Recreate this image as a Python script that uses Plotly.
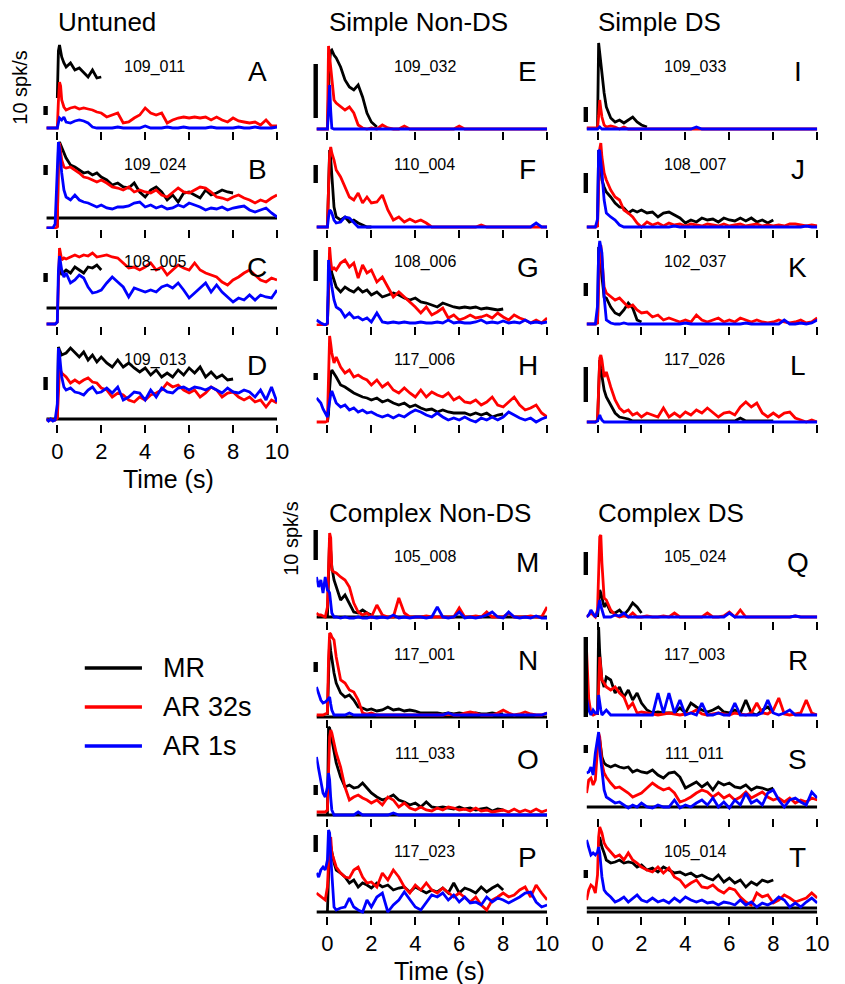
import plotly.graph_objects as go

N = None

# Shared time grid (s); finer sampling around stimulus onset
TIME = [-0.5, -0.4, -0.3, -0.2, -0.1, 0.0,
        0.05, 0.1, 0.15, 0.2, 0.3, 0.4,
        0.6, 0.8, 1.0, 1.2, 1.4, 1.6, 1.8, 2.0,
        2.25, 2.5, 2.75, 3.0, 3.25, 3.5, 3.75, 4.0,
        4.25, 4.5, 4.75, 5.0, 5.25, 5.5, 5.75, 6.0,
        6.25, 6.5, 6.75, 7.0, 7.25, 7.5, 7.75, 8.0,
        8.25, 8.5, 8.75, 9.0, 9.25, 9.5, 9.75, 10.0]

# Normalised response per cell (MR = motion reversal, AR 32s / AR 1s = adaptation runs)
A_MR = [N,N,N,N,N,33, 80,86,78,74,68,64, 68,61,63,59,54,61,53,54]
A_AR32 = [3,3,3,3,3,3, 30,49,45,31,24,21, 23,24,22,23,22,21,19,18,
          14,16,18,8, 9,13,16,23, 18,16,18,8, 11,13,14,13, 14,13,14,11, 14,11,9,13, 10,9,8,9, 6,11,5,5]
A_AR1 = [3,3,3,3,3,3, 8,13,12,11,14,9, 8,10,11,10,8,4,3,3,
         3,3,4,3, 3,3,3,5, 3,3,3,4, 3,3,4,3, 3,3,3,4, 3,3,3,3, 4,3,3,4, 3,3,3,4]

B_MR = [N,N,N,N,N,2, 80,87,84,81,76,71, 64,62,59,56,57,54,56,52,
        49,44,46,42, 41,46,37,32, 39,42,37,29, 34,27,36,37, 34,31,39,34, 36,39,37,36]
B_AR32 = [1,1,1,1,1,2, 70,86,78,69,62,61, 62,59,56,52,51,49,47,49,
          46,42,41,39, 42,37,39,37, 36,39,34,32, 37,41,37,36, 39,42,41,37, 32,31,29,32, 34,31,29,26, 29,27,31,34]
B_AR1 = [1,1,1,1,5,50, 87,80,65,56,39,32, 29,34,29,27,26,24,22,24,
         21,20,22,22, 23,26,27,22, 24,21,23,20, 21,24,22,26, 24,22,19,21, 20,22,19,21, 22,23,19,17, 19,21,16,12]

C_MR = [N,N,N,N,N,N, N,60,55,51,54,56, 53,59,56,53,59,58,61,56]
C_AR32 = [2,2,2,2,2,4, 60,78,72,66,68,67, 69,71,69,71,70,73,69,70,
          71,69,68,63, 58,59,56,59, 63,56,59,51, 56,61,58,56, 63,56,53,51, 49,44,41,46, 49,53,56,51, 46,44,48,46]
C_AR1 = [2,2,2,2,2,4, 55,70,62,56,49,53, 43,46,51,48,39,33,34,36,
         43,49,44,39, 29,38,36,34, 36,34,39,41, 38,43,36,28, 33,38,43,34, 41,34,29,24, 28,26,31,26, 31,29,28,36]

D_MR = [N,N,N,N,N,5, 77,74,72,69,70,71, 76,71,67,72,64,69,62,67,
        61,57,64,57, 61,56,52,56, 49,54,47,51, 47,54,49,56, 51,57,47,52, 46,49,44,45]
D_AR32 = [4,4,4,4,4,6, 40,54,53,51,49,47, 41,44,41,44,46,42,41,36,
          34,27,31,29, 24,22,27,24, 29,31,34,41, 37,39,34,31, 34,27,31,37, 34,27,31,32, 27,24,27,22, 24,17,24,21]
D_AR1 = [5,3,5,3,4,20, 76,70,58,47,37,34, 36,32,31,29,34,37,31,32,
         36,31,37,24, 27,32,31,24, 34,27,36,32, 31,36,37,34, 37,36,34,37, 34,31,36,32, 31,34,32,27, 34,24,37,22]

E_MR = [N,N,N,N,N,2, 40,70,80,81,76,73, 64,51,44,41,46,34,18,9, 4]
E_AR32 = [2,2,2,2,2,2, 85,75,62,54,31,28, 24,21,24,18,6,3,2,3,
          2,6,3,2, 2,5,2,2, 2,2,2,2, 2,2,2,5, 2,2,2,2, 2,2,2,2, 2,2,2,2, 2,2,2,2]
E_AR1 = [2,2,2,2,2,2, 20,46,20,3,2,2, 2,2,2,2,2,2,2,2,
         2,2,2,2, 2,2,2,2, 2,2,2,2, 2,2,2,2, 2,2,2,2, 2,2,2,2, 2,2,2,2, 2,2,2,2]

F_MR = [N,N,N,N,N,2, 60,79,70,56,22,12, 9,12,7,9,6,4,2,2]
F_AR32 = [2,2,2,2,2,2, 40,75,82,76,69,59, 52,42,32,29,36,26,32,26,
          27,34,19,9, 12,7,10,7, 9,6,2,2, 2,2,2,2, 2,2,2,4, 2,2,2,2, 2,2,2,2, 2,2,2,2]
F_AR1 = [2,2,2,2,2,2, 12,19,18,16,9,6, 7,12,11,6,2,2,2,2,
         2,2,2,2, 2,2,2,2, 2,2,2,2, 2,2,2,2, 2,2,2,2, 2,2,2,2, 2,2,2,2, 2,6,2,2]

G_MR = [N,N,N,N,N,2, 50,68,60,53,46,39, 34,39,36,34,38,34,36,31,
        34,29,31,33, 31,28,26,28, 24,23,21,19, 23,21,19,18, 19,18,19,17, 18,17,16,17]
G_AR32 = [1,1,1,1,1,2, 60,79,65,56,58,56, 63,66,59,63,48,61,53,56,
          44,49,39,29, 34,29,24,19, 13,19,11,14, 18,8,11,6, 8,11,8,9, 11,8,13,9, 6,11,8,6, 3,6,3,8]
G_AR1 = [6,4,3,2,1,3, 66,55,45,39,26,19, 16,9,13,8,9,6,8,4,
         13,4,3,4, 3,4,3,3, 4,3,3,4, 3,6,3,4, 3,3,4,6, 3,4,3,5, 3,4,3,6, 3,4,3,4]

H_MR = [N,N,N,N,N,2, 10,35,50,54,51,47, 39,37,34,31,29,27,26,24,
        26,22,24,21, 19,21,17,19, 16,14,15,12, 14,12,11,11, 11,9,11,9, 11,7,9,10]
H_AR32 = [2,2,2,2,2,3, 60,88,80,71,61,67, 57,51,54,47,49,46,44,39,
          44,37,41,34, 31,36,31,27, 34,27,32,29, 27,31,24,27, 22,21,24,19, 22,27,19,17, 22,27,19,14, 16,19,11,7]
H_AR1 = [26,24,21,15,11,7, 15,24,30,33,27,21, 17,19,14,16,12,14,11,12,
         9,7,9,6, 9,7,11,14, 12,9,7,11, 7,4,6,4, 7,4,2,6, 4,7,4,7, 12,9,6,4, 6,2,5,7]

I_MR = [N,N,N,N,N,3, 88,78,66,54,38,24, 13,9,11,8,11,14,9,6, 4]
I_AR32 = [3,3,3,3,3,3, 15,31,22,14,6,4, 5,4,2,4,2,2,2,2,
          2,2,2,2, 2,2,2,2, 2,2,2,2, 2,2,2,2, 2,2,2,2, 2,2,2,2, 2,2,2,2, 2,2,2,2]
I_AR1 = [2,2,2,2,2,2, 3,4,3,2,2,2, 2,2,2,2,2,2,2,2,
         2,2,2,2, 2,2,2,2, 2,4,2,2, 2,2,2,2, 2,2,2,2, 2,2,2,2, 2,2,2,2, 2,2,2,2]

J_MR = [N,N,N,N,N,2, 79,70,58,49,42,37, 32,26,22,21,16,19,17,19,
        16,17,12,16, 17,14,11,6, 9,7,11,9, 10,7,11,9, 8,11,8,11, 7,9,6,9]
J_AR32 = [2,2,2,2,2,3, 50,80,86,72,56,49, 39,32,29,19,16,12,6,2,
          7,4,6,3, 6,4,5,3, 5,4,3,5, 4,3,5,3, 4,5,3,4, 5,3,4,3, 4,3,5,5, 4,3,4,3]
J_AR1 = [2,2,2,2,2,10, 79,78,68,56,29,16, 12,9,4,2,2,2,2,2,
         2,2,2,2, 2,3,2,2, 2,2,2,2, 2,2,2,2, 2,2,2,2, 2,2,2,2, 2,2,2,2, 2,3,2,2]

K_MR = [N,N,N,N,N,2, 79,70,60,53,29,28, 19,13,11,16,23,18,6,4]
K_AR32 = [2,2,2,2,2,3, 50,75,81,66,39,33, 29,26,28,24,19,21,16,13,
          14,9,11,6, 8,6,4,6, 4,11,6,4, 6,8,4,6, 4,8,6,4, 6,4,3,4, 6,4,3,4, 6,3,4,8]
K_AR1 = [2,2,2,2,2,20, 75,85,80,73,29,6, 3,2,2,3,2,2,2,2,
         2,2,2,2, 2,2,2,3, 2,2,2,2, 2,2,2,2, 2,2,3,2, 2,2,2,2, 2,6,2,2, 3,2,3,6]

L_MR = [N,N,N,N,N,2, 30,64,55,47,34,27, 19,11,7,6,5,3,3,3,
        3,3,3,3, 3,3,3,3, 3,3,3,3, 3,3,3,3, 3,6,3,3, 3,3,3,3]
L_AR32 = [2,2,2,2,2,4, 50,66,69,64,47,52, 37,24,16,12,14,9,11,7,
          11,9,7,16, 7,11,7,12, 9,14,11,16, 11,7,11,12, 9,17,22,17, 21,11,7,11, 7,11,12,6, 4,2,4,2]
L_AR1 = [2,2,2,2,2,3, 6,9,6,4,2,2, 2,2,2,2,2,2,2,2,
         2,2,2,2, 2,2,2,2, 2,2,2,2, 2,2,2,2, 2,2,2,2, 2,2,2,2, 2,2,2,2, 2,2,2,2]

M_MR = [N,N,N,N,N,4, 60,83,70,54,41,34, 21,26,18,9,8,11,8,6]
M_AR32 = [8,6,6,5,4,14, 60,88,83,51,49,48, 44,41,34,18,9,6,8,4,
          16,6,4,4, 23,8,4,4, 4,5,4,4, 4,4,4,13, 4,4,5,4, 9,4,4,4, 8,4,4,4, 5,4,4,14]
M_AR1 = [44,34,41,28,44,31, 30,28,18,8,4,4, 3,4,3,3,4,3,3,4,
         3,4,3,6, 3,4,3,4, 4,3,4,14, 4,3,4,9, 3,4,3,4, 6,9,4,3, 9,4,3,4, 3,5,3,3]

N_MR = [N,N,N,N,N,4, 50,79,68,59,46,36, 26,22,24,19,12,11,9,10,
        8,9,12,9, 10,8,9,8, 6,6,6,6, 5,6,5,6, 5,5,6,5, 5,6,5,5]
N_AR32 = [4,4,4,4,5,6, 60,86,85,82,79,62, 39,36,29,27,19,6,5,6,
          4,4,4,4, 4,4,4,4, 4,4,4,4, 4,5,4,4, 6,7,6,4, 4,4,6,9, 6,4,5,7, 5,4,4,6]
N_AR1 = [32,26,19,16,17,19, 20,22,15,9,4,4, 4,4,6,4,4,4,4,4,
         4,4,4,4, 4,4,4,4, 4,4,4,4, 4,6,4,4, 4,4,4,4, 4,4,4,4, 4,4,4,4, 4,4,4,6]

O_MR = [N,N,N,N,N,3, 91,90,84,78,65,55, 41,31,33,30,31,35,30,25,
        21,18,20,23, 18,16,13,15, 11,16,11,10, 11,10,9,11, 9,10,8,9, 10,7,9,8]
O_AR32 = [6,6,6,6,6,8, 50,81,88,85,75,65, 51,31,18,21,23,20,18,15,
          18,13,21,18, 11,15,10,8, 11,8,7,10, 8,11,10,8, 9,7,10,7, 8,6,7,8, 6,9,6,8, 6,9,6,8]
O_AR1 = [61,48,35,25,21,31, 45,38,20,8,3,3, 3,3,3,3,6,3,3,3,
         3,3,3,5, 3,3,3,3, 3,3,3,3, 3,3,3,3, 3,3,3,3, 3,3,3,3, 3,3,3,3, 3,3,3,3]

P_MR = [N,N,N,N,N,4, 50,76,70,63,53,46, 43,39,33,36,29,33,31,28,
        33,29,31,26, 28,29,24,29, 26,23,26,24, 28,23,33,23, 28,26,23,29, 24,28,31,26]
P_AR32 = [23,21,19,18,16,29, 60,76,79,63,56,49, 43,39,38,46,49,39,33,34,
          29,43,36,46, 39,29,23,31, 26,33,26,23, 28,23,19,23, 18,14,19,11, 6,16,19,23, 19,21,26,29, 19,31,23,16]
P_AR1 = [43,39,46,49,46,56, 86,83,60,39,9,6, 8,9,18,9,6,4,16,9,
         19,23,4,11, 16,24,16,9, 6,14,21,19, 23,16,21,14, 19,13,14,11, 19,14,18,16, 13,16,19,23, 24,14,9,11]

Q_MR = [N,N,N,N,N,4, 20,31,28,24,14,18, 9,8,11,6,11,18,14,8]
Q_AR32 = [4,6,8,6,4,11, 60,84,86,58,23,21, 11,6,4,5,4,8,4,4,
          5,4,4,5, 4,8,4,4, 4,4,4,8, 4,4,5,9, 4,11,4,4, 4,4,4,4, 4,4,4,5, 4,4,4,4]
Q_AR1 = [4,6,11,8,4,9, 15,21,15,11,4,4, 4,6,5,8,4,4,4,4,
         4,4,4,4, 4,4,4,4, 4,4,4,4, 4,4,4,8, 4,4,4,4, 4,4,4,4, 4,4,4,5, 4,4,4,4]

R_MR = [N,N,N,N,N,4, 92,66,50,39,32,42, 39,26,32,22,29,19,26,16,
        9,6,7,6, 6,6,11,6, 16,12,9,7, 9,12,7,6, 9,6,19,6, 4,9,12,6]
R_AR32 = [69,20,6,4,5,6, 30,62,50,39,36,32, 29,32,26,22,11,16,6,7,
          6,5,4,5, 6,5,4,5, 6,9,5,4, 5,6,5,4, 6,5,4,6, 16,6,5,9, 21,5,4,5, 6,19,6,4]
R_AR1 = [21,9,4,9,6,6, 24,15,9,4,6,9, 4,4,4,4,4,4,4,4,
         4,4,26,6, 26,6,19,4, 6,4,16,4, 4,6,4,4, 16,4,4,4, 4,6,19,6, 4,6,9,4, 4,4,4,4]

S_MR = [N,N,N,N,N,N, 80,78,70,61,55,53, 51,53,51,50,51,46,48,46,
        45,48,43,40, 45,46,41,30, 33,36,31,35, 28,36,33,35, 31,30,33,28, 31,30,28,30]
S_AR32 = [25,38,40,33,38,65, 85,81,68,55,45,41, 35,30,31,28,25,21,23,25,
          30,35,31,28, 30,25,16,18, 21,25,28,26, 21,25,20,23, 18,21,26,20, 23,26,21,18, 20,16,20,15, 18,16,20,18]
S_AR1 = [45,46,51,43,65,78, 86,68,58,48,28,21, 18,15,16,13,10,13,11,15,
         11,10,13,11, 11,18,10,13, 11,15,18,13, 20,11,16,10, 18,13,25,15, 18,13,25,28, 18,11,18,20, 16,13,26,20]

T_MR = [N,N,N,N,N,N, 70,79,74,69,63,56, 53,54,56,53,54,53,49,51,
        46,48,44,49, 46,43,44,41, 43,39,41,38, 36,41,34,38, 33,36,29,34, 31,36,34,36]
T_AR32 = [16,26,31,29,23,41, 79,89,86,83,73,69, 64,59,61,56,63,56,53,49,
          46,44,49,43, 48,39,36,29, 33,36,29,28, 31,26,23,28, 26,19,14,11, 23,19,21,13, 16,21,18,14, 16,18,23,18]
T_AR1 = [76,69,61,63,61,64, 69,63,50,39,26,23, 19,14,16,19,14,18,21,16,
         14,18,14,16, 13,18,14,19, 16,14,16,13, 14,11,14,13, 11,16,11,14, 9,13,11,14, 19,16,9,13, 9,14,18,13]

PANELS = list("ABCDEFGHIJKLMNOPQRST")
CELL_IDS = ["109_011", "109_024", "108_005", "109_013",
            "109_032", "110_004", "108_006", "117_006",
            "109_033", "108_007", "102_037", "117_026",
            "105_008", "117_001", "111_033", "117_023",
            "105_024", "117_003", "111_011", "105_014"]
MR_SERIES = [A_MR, B_MR, C_MR, D_MR, E_MR, F_MR, G_MR, H_MR, I_MR, J_MR,
             K_MR, L_MR, M_MR, N_MR, O_MR, P_MR, Q_MR, R_MR, S_MR, T_MR]
AR32_SERIES = [A_AR32, B_AR32, C_AR32, D_AR32, E_AR32, F_AR32, G_AR32, H_AR32, I_AR32, J_AR32,
               K_AR32, L_AR32, M_AR32, N_AR32, O_AR32, P_AR32, Q_AR32, R_AR32, S_AR32, T_AR32]
AR1_SERIES = [A_AR1, B_AR1, C_AR1, D_AR1, E_AR1, F_AR1, G_AR1, H_AR1, I_AR1, J_AR1,
              K_AR1, L_AR1, M_AR1, N_AR1, O_AR1, P_AR1, Q_AR1, R_AR1, S_AR1, T_AR1]
# Reference (pre-stimulus) levels drawn as horizontal black lines
BASELINES = [[], [11], [18], [5], [], [], [], [], [], [], [], [],
             [4], [2], [3], [4], [], [], [11], [8, 4]]
# 10 spk/s scale bar extent in each panel's response units
BAR_LO = [16, 54, 44, 34, 13, 46, 45, 44, 9, 36, 30, 22, 61, 47, 23, 64, 46, 2, 65, 38]
BAR_HI = [25, 64, 53, 47, 67, 64, 76, 51, 24, 56, 43, 57, 91, 57, 33, 81, 69, 82, 73, 46]

GROUP_TITLES = ["Untuned", "Simple Non-DS", "Simple DS", "Complex Non-DS", "Complex DS"]
LEGEND_NAMES = ["MR", "AR 32s", "AR 1s"]
COLORS = ["#000000", "#ff0000", "#0000ff"]

W, H = 845, 984
PANEL_H = 93
COL_X = {1: (47, 281), 2: (321, 555), 3: (595, 829)}
TOP_ROWS = [131, 229, 326, 424]
LOW_ROWS = [621, 719, 818, 916]
POS = {}
for k, p in enumerate("ABCD"):
    POS[p] = (1, TOP_ROWS[k])
for k, p in enumerate("EFGH"):
    POS[p] = (2, TOP_ROWS[k])
for k, p in enumerate("IJKL"):
    POS[p] = (3, TOP_ROWS[k])
for k, p in enumerate("MNOP"):
    POS[p] = (2, LOW_ROWS[k])
for k, p in enumerate("QRST"):
    POS[p] = (3, LOW_ROWS[k])

FONT = "Liberation Sans, Arial, sans-serif"

fig = go.Figure()
layout = dict(width=W, height=H, autosize=False, margin=dict(l=0, r=0, t=0, b=0),
              paper_bgcolor="white", plot_bgcolor="white", showlegend=False,
              font=dict(family=FONT, color="black"))
annotations = []
shapes = []

for i, p in enumerate(PANELS):
    n = i + 1
    xa = "x" if n == 1 else f"x{n}"
    ya = "y" if n == 1 else f"y{n}"
    col, bottom = POS[p]
    xl, xr = COL_X[col]
    layout["xaxis" if n == 1 else f"xaxis{n}"] = dict(
        domain=[xl / W, xr / W], anchor=ya, range=[-0.5, 10],
        tickvals=[0, 2, 4, 6, 8, 10], ticks="outside", ticklen=8, tickwidth=2,
        tickcolor="black", showline=False, showgrid=False, zeroline=False,
        showticklabels=p in "DPT", tickfont=dict(size=22, color="black", family=FONT))
    layout["yaxis" if n == 1 else f"yaxis{n}"] = dict(
        domain=[1 - bottom / H, 1 - (bottom - PANEL_H) / H], anchor=xa,
        range=[0, PANEL_H], visible=False)

    for lvl in BASELINES[i]:
        fig.add_trace(go.Scatter(x=[-0.5, 10], y=[lvl, lvl], mode="lines",
                                 line=dict(color="black", width=3),
                                 xaxis=xa, yaxis=ya, hoverinfo="skip"))
    for series, color in zip([MR_SERIES[i], AR32_SERIES[i], AR1_SERIES[i]], COLORS):
        fig.add_trace(go.Scatter(x=TIME[:len(series)], y=series, mode="lines",
                                 line=dict(color=color, width=2.8),
                                 xaxis=xa, yaxis=ya, hoverinfo="skip"))

    shapes.append(dict(type="rect", xref="paper", yref=ya,
                       x0=(xl - 3) / W, x1=(xl + 1.5) / W, y0=BAR_LO[i], y1=BAR_HI[i],
                       fillcolor="black", line=dict(width=0)))
    dref = "x domain" if n == 1 else f"x{n} domain"
    yref = "y domain" if n == 1 else f"y{n} domain"
    annotations.append(dict(text=CELL_IDS[i], xref=dref, yref=yref, x=0.47, y=1 - 29 / PANEL_H,
                            showarrow=False, font=dict(size=16, family=FONT),
                            xanchor="center", yanchor="middle"))
    annotations.append(dict(text=p, xref=dref, yref=yref, x=0.915, y=1 - 34 / PANEL_H,
                            showarrow=False, font=dict(size=28, family=FONT),
                            xanchor="center", yanchor="middle"))

# Group titles
for title, (x, y) in zip(GROUP_TITLES, [(57, 22), (332, 22), (605, 22), (332, 513), (605, 513)]):
    annotations.append(dict(text=title, xref="paper", yref="paper", x=x / W, y=1 - y / H,
                            xanchor="left", yanchor="middle", showarrow=False,
                            font=dict(size=26, family=FONT)))

# Scale label and axis titles
for x, y in [(20, 88), (295, 539)]:
    annotations.append(dict(text="10 spk/s", xref="paper", yref="paper", x=x / W, y=1 - y / H,
                            textangle=-90, showarrow=False, xanchor="center", yanchor="middle",
                            font=dict(size=20, family=FONT)))
for x, y in [(171, 479), (446, 971)]:
    annotations.append(dict(text="Time (s)", xref="paper", yref="paper", x=x / W, y=1 - y / H,
                            showarrow=False, xanchor="center", yanchor="middle",
                            font=dict(size=25, family=FONT)))

# Legend drawn as line samples with labels
for name, color, y in zip(LEGEND_NAMES, COLORS, [668, 707, 746]):
    shapes.append(dict(type="line", xref="paper", yref="paper", x0=86 / W, x1=144 / W,
                       y0=1 - y / H, y1=1 - y / H, line=dict(color=color, width=3.5)))
    annotations.append(dict(text=name, xref="paper", yref="paper", x=163 / W, y=1 - y / H,
                            xanchor="left", yanchor="middle", showarrow=False,
                            font=dict(size=27, family=FONT)))

layout["annotations"] = annotations
layout["shapes"] = shapes
fig.update_layout(**layout)
fig.write_html("out.html")
